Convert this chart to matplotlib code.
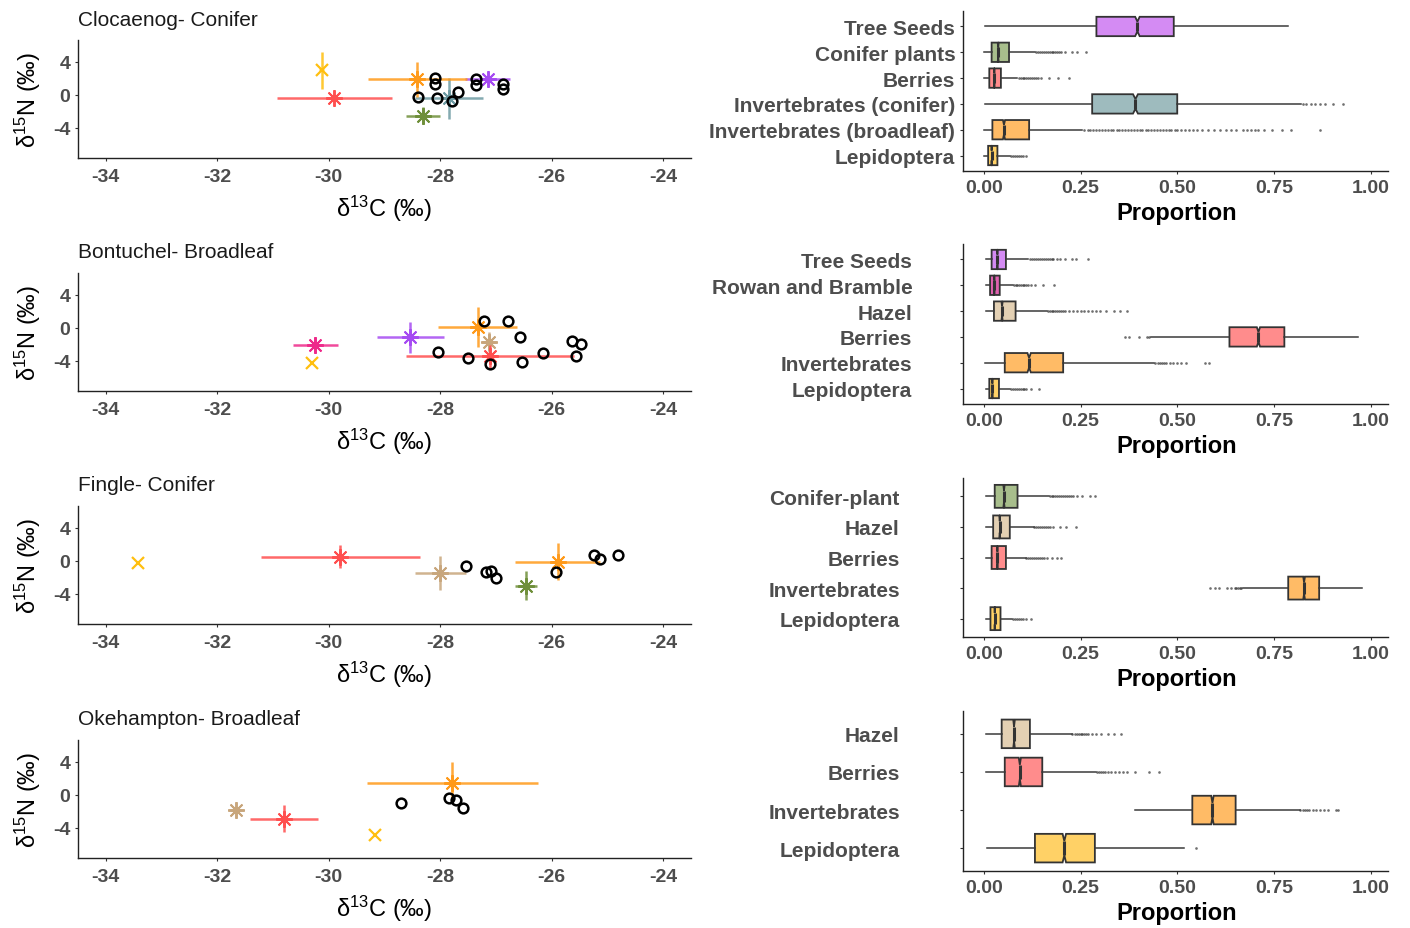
import numpy as np
import matplotlib.pyplot as plt

plt.rcParams['font.family'] = ['Liberation Sans', 'DejaVu Sans']
plt.rcParams['mathtext.fontset'] = 'custom'
plt.rcParams['mathtext.rm'] = 'Liberation Sans'
plt.rcParams['mathtext.it'] = 'Liberation Sans:italic'
plt.rcParams['axes.unicode_minus'] = False

# ---------------- isotope biplots (left column) ----------------
cloc_src = ["Tree Seeds", "Conifer plants", "Berries", "Invertebrates (conifer)",
            "Invertebrates (broadleaf)", "Lepidoptera"]
cloc_c13 = [-27.15, -28.31, -29.90, -27.85, -28.41, -30.13]
cloc_n15 = [1.96, -2.52, -0.36, -0.40, 1.88, 2.96]
cloc_c13_sd = [0.41, 0.30, 1.03, 0.61, 0.89, 0.05]
cloc_n15_sd = [0.15, 1.00, 0.15, 2.50, 2.14, 2.25]
cloc_mice_c13 = [-28.39, -28.09, -28.10, -28.06, -27.79, -27.69, -27.35, -27.35, -26.87, -26.87]
cloc_mice_n15 = [-0.24, 2.08, 1.28, -0.36, -0.72, 0.40, 1.88, 1.16, 1.28, 0.76]

bont_src = ["Tree Seeds", "Rowan and Bramble", "Hazel", "Berries", "Invertebrates", "Lepidoptera"]
bont_c13 = [-28.54, -30.24, -27.13, -27.11, -27.33, -30.30]
bont_n15 = [-1.14, -2.07, -1.67, -3.46, 0.08, -4.31]
bont_c13_sd = [0.60, 0.40, 0.12, 1.51, 0.71, 0.0]
bont_n15_sd = [1.90, 0.95, 1.20, 1.40, 2.44, 0.0]
bont_mice_c13 = [-27.22, -26.79, -26.56, -25.64, -25.48, -28.04, -27.50, -27.11, -26.54, -26.16, -25.57]
bont_mice_n15 = [0.89, 0.89, -1.06, -1.63, -1.95, -2.89, -3.66, -4.39, -4.19, -3.05, -3.37]

fing_src = ["Conifer-plant", "Hazel", "Berries", "Invertebrates", "Lepidoptera"]
fing_c13 = [-26.46, -28.00, -29.79, -25.89, -33.43]
fing_n15 = [-3.00, -1.42, 0.53, -0.08, -0.20]
fing_c13_sd = [0.20, 0.46, 1.42, 0.76, 0.0]
fing_n15_sd = [1.73, 2.07, 1.34, 2.24, 0.0]
fing_mice_c13 = [-27.54, -27.17, -27.09, -27.00, -25.93, -25.24, -25.13, -24.81]
fing_mice_n15 = [-0.61, -1.30, -1.22, -2.11, -1.30, 0.73, 0.20, 0.73]

okeh_src = ["Hazel", "Berries", "Invertebrates", "Lepidoptera"]
okeh_c13 = [-31.67, -30.81, -27.78, -29.17]
okeh_n15 = [-1.80, -2.88, 1.48, -4.92]
okeh_c13_sd = [0.10, 0.61, 1.54, 0.0]
okeh_n15_sd = [0.10, 1.60, 2.45, 0.0]
okeh_mice_c13 = [-28.70, -27.85, -27.72, -27.59]
okeh_mice_n15 = [-1.00, -0.40, -0.60, -1.60]

site_titles = ["Clocaenog- Conifer", "Bontuchel- Broadleaf", "Fingle- Conifer", "Okehampton- Broadleaf"]

point_colors = {
    "Tree Seeds": "#A64BF2", "Conifer plants": "#6F8F3A", "Conifer-plant": "#6F8F3A",
    "Berries": "#FF4F4F", "Invertebrates (conifer)": "#6E9BA3",
    "Invertebrates (broadleaf)": "#FF9A1A", "Invertebrates": "#FF9A1A",
    "Lepidoptera": "#FFBF0F", "Rowan and Bramble": "#EE2A8A", "Hazel": "#C8A67C",
}
box_colors = {
    "Tree Seeds": "#D48BF3", "Conifer plants": "#A8BE8C", "Conifer-plant": "#A8BE8C",
    "Berries": "#FF8C8C", "Invertebrates (conifer)": "#9EBBBE",
    "Invertebrates (broadleaf)": "#FFBB66", "Invertebrates": "#FFBB66",
    "Lepidoptera": "#FFD166", "Rowan and Bramble": "#E062B0", "Hazel": "#E3D0B3",
}

# ---------------- diet proportions (right column) ----------------
n_draws = 3000

p1_lab = ["Tree Seeds", "Conifer plants", "Berries", "Invertebrates (conifer)",
          "Invertebrates (broadleaf)", "Lepidoptera"]
p1_lo = [0.003, 0.0, 0.0, 0.003, 0.0, 0.0]
p1_q1 = [0.291, 0.020, 0.014, 0.280, 0.022, 0.011]
p1_med = [0.397, 0.037, 0.027, 0.392, 0.052, 0.020]
p1_q3 = [0.491, 0.065, 0.044, 0.500, 0.117, 0.035]
p1_hi = [0.787, 0.132, 0.086, 0.819, 0.255, 0.067]
p1_out = [
    [],
    [0.135, 0.14, 0.145, 0.15, 0.155, 0.16, 0.165, 0.17, 0.175, 0.18, 0.185, 0.19, 0.195, 0.2, 0.21, 0.229, 0.24, 0.264],
    [0.09, 0.095, 0.1, 0.105, 0.11, 0.115, 0.12, 0.125, 0.13, 0.135, 0.14, 0.148, 0.169, 0.191, 0.221],
    [0.825, 0.834, 0.847, 0.855, 0.869, 0.882, 0.902, 0.928],
    [0.26, 0.268, 0.275, 0.283, 0.29, 0.298, 0.305, 0.313, 0.32, 0.328, 0.335, 0.343, 0.35, 0.358, 0.365,
     0.373, 0.38, 0.388, 0.395, 0.403, 0.41, 0.418, 0.425, 0.433, 0.44, 0.448, 0.455, 0.463, 0.47, 0.478,
     0.485, 0.493, 0.5, 0.51, 0.52, 0.53, 0.54, 0.55, 0.565, 0.58, 0.595, 0.61, 0.625, 0.64, 0.653,
     0.67, 0.68, 0.69, 0.70, 0.71, 0.725, 0.745, 0.77, 0.794, 0.869],
    [0.07, 0.075, 0.08, 0.085, 0.09, 0.095, 0.1, 0.11],
]

p2_lab = ["Tree Seeds", "Rowan and Bramble", "Hazel", "Berries", "Invertebrates", "Lepidoptera"]
p2_lo = [0.005, 0.005, 0.005, 0.431, 0.003, 0.005]
p2_q1 = [0.020, 0.016, 0.026, 0.635, 0.054, 0.014]
p2_med = [0.035, 0.027, 0.047, 0.710, 0.117, 0.022]
p2_q3 = [0.057, 0.041, 0.082, 0.777, 0.205, 0.039]
p2_hi = [0.115, 0.076, 0.164, 0.968, 0.440, 0.067]
p2_out = [
    [0.118, 0.125, 0.13, 0.135, 0.14, 0.145, 0.15, 0.155, 0.16, 0.165, 0.17, 0.175, 0.18, 0.19, 0.197, 0.21, 0.227, 0.238, 0.268],
    [0.078, 0.082, 0.086, 0.09, 0.095, 0.1, 0.105, 0.11, 0.115, 0.122, 0.132, 0.153, 0.181],
    [0.165, 0.17, 0.175, 0.18, 0.185, 0.19, 0.195, 0.2, 0.205, 0.21, 0.22, 0.23, 0.24, 0.25, 0.26, 0.27,
     0.28, 0.29, 0.30, 0.317, 0.336, 0.352, 0.369],
    [0.364, 0.376, 0.401, 0.421, 0.427],
    [0.443, 0.45, 0.455, 0.46, 0.465, 0.47, 0.48, 0.49, 0.5, 0.51, 0.522, 0.572, 0.583],
    [0.07, 0.075, 0.08, 0.085, 0.09, 0.095, 0.1, 0.105, 0.11, 0.122, 0.142],
]

p3_lab = ["Conifer-plant", "Hazel", "Berries", "Invertebrates", "Lepidoptera"]
p3_lo = [0.005, 0.005, 0.005, 0.669, 0.005]
p3_q1 = [0.028, 0.024, 0.020, 0.787, 0.017]
p3_med = [0.052, 0.041, 0.035, 0.828, 0.028]
p3_q3 = [0.087, 0.067, 0.057, 0.867, 0.043]
p3_hi = [0.169, 0.129, 0.108, 0.977, 0.073]
p3_out = [
    [0.17, 0.175, 0.18, 0.185, 0.19, 0.195, 0.2, 0.205, 0.21, 0.215, 0.22, 0.225, 0.231, 0.24, 0.253, 0.274, 0.287],
    [0.13, 0.135, 0.14, 0.145, 0.15, 0.155, 0.16, 0.165, 0.17, 0.179, 0.197, 0.212, 0.238],
    [0.11, 0.115, 0.12, 0.125, 0.13, 0.135, 0.14, 0.145, 0.15, 0.155, 0.162, 0.175, 0.188, 0.2],
    [0.586, 0.597, 0.609, 0.628, 0.638, 0.649, 0.653, 0.657, 0.661, 0.665],
    [0.075, 0.08, 0.085, 0.09, 0.095, 0.1, 0.11, 0.122],
]

p4_lab = ["Hazel", "Berries", "Invertebrates", "Lepidoptera"]
p4_lo = [0.005, 0.005, 0.390, 0.009]
p4_q1 = [0.046, 0.054, 0.539, 0.132]
p4_med = [0.078, 0.093, 0.591, 0.208]
p4_q3 = [0.119, 0.151, 0.651, 0.287]
p4_hi = [0.227, 0.291, 0.817, 0.517]
p4_out = [
    [0.228, 0.235, 0.24, 0.245, 0.25, 0.255, 0.26, 0.265, 0.27, 0.28, 0.29, 0.304, 0.322, 0.336, 0.354],
    [0.292, 0.297, 0.302, 0.307, 0.312, 0.32, 0.33, 0.34, 0.35, 0.36, 0.369, 0.39, 0.427, 0.453],
    [0.818, 0.824, 0.83, 0.836, 0.842, 0.85, 0.86, 0.87, 0.88, 0.89, 0.91, 0.916],
    [0.548],
]

W, H = 1410, 929
fig = plt.figure(figsize=(W / 100, H / 100), dpi=100)


def px_axes(x0, y0, x1, y1):
    return fig.add_axes([x0 / W, 1 - y1 / H, (x1 - x0) / W, (y1 - y0) / H])


def style(ax):
    for s in ['top', 'right']:
        ax.spines[s].set_visible(False)
    for s in ['left', 'bottom']:
        ax.spines[s].set_linewidth(1.0)
        ax.spines[s].set_color('#222222')
    ax.tick_params(length=2.5, width=0.8, color='#333333', pad=3)


def biplot(ax, src, c13, n15, c13_sd, n15_sd, mice_c13, mice_n15):
    for i, s in enumerate(src):
        col = point_colors[s]
        ax.errorbar(c13[i], n15[i], xerr=c13_sd[i], yerr=n15_sd[i], fmt='none',
                    ecolor=col, elinewidth=1.8, alpha=0.85, capsize=0)
        if s == "Lepidoptera":
            ax.plot(c13[i], n15[i], linestyle='none', marker='x', markersize=9,
                    markeredgewidth=1.6, color=col)
        else:
            ax.plot(c13[i], n15[i], linestyle='none', marker=(8, 2, 0), markersize=12,
                    markeredgewidth=1.4, color=col)
    ax.plot(mice_c13, mice_n15, 'o', mfc='none', mec='black', ms=7, mew=1.8)
    ax.set_xlim(-34.5, -23.5)
    ax.set_ylim(-7.65, 6.65)
    ax.set_xticks([-34, -32, -30, -28, -26, -24], ["-34", "-32", "-30", "-28", "-26", "-24"],
                  fontsize=14, fontweight='bold', color='#4D4D4D')
    ax.set_yticks([-4, 0, 4], ["-4", "0", "4"], fontsize=14, fontweight='bold', color='#4D4D4D')
    style(ax)
    ax.tick_params(axis='x', pad=5)


def boxes(ax, labels, lo, q1, med, q3, hi, out, ypad):
    stats = []
    for i in range(len(labels)):
        notch = 1.58 * (q3[i] - q1[i]) / np.sqrt(n_draws)
        stats.append(dict(whislo=lo[i], q1=q1[i], med=med[i], q3=q3[i], whishi=hi[i],
                          fliers=out[i], cilo=med[i] - notch, cihi=med[i] + notch))
    pos = np.arange(1, len(labels) + 1)
    bp = ax.bxp(stats, positions=pos, widths=0.75, orientation='horizontal',
                patch_artist=True, shownotches=True, showcaps=False,
                boxprops=dict(edgecolor='#333333', linewidth=1.3),
                whiskerprops=dict(color='#3A3A3A', linewidth=1.1),
                medianprops=dict(color='#333333', linewidth=2.2),
                flierprops=dict(marker='o', markersize=1.9, markerfacecolor='#333333',
                                markeredgecolor='none', alpha=0.7))
    for patch, lab in zip(bp['boxes'], labels):
        patch.set_facecolor(box_colors[lab])
    ax.set_ylim(len(labels) + 0.6, 0.4)
    ax.set_xlim(-0.054, 1.045)
    ax.set_yticks(pos, labels, fontsize=15, fontweight='bold', color='#4D4D4D')
    ax.set_xticks([0, 0.25, 0.5, 0.75, 1.0], ["0.00", "0.25", "0.50", "0.75", "1.00"],
                  fontsize=14, fontweight='bold', color='#4D4D4D')
    style(ax)
    ax.tick_params(axis='y', pad=ypad)


left_data = [
    (cloc_src, cloc_c13, cloc_n15, cloc_c13_sd, cloc_n15_sd, cloc_mice_c13, cloc_mice_n15),
    (bont_src, bont_c13, bont_n15, bont_c13_sd, bont_n15_sd, bont_mice_c13, bont_mice_n15),
    (fing_src, fing_c13, fing_n15, fing_c13_sd, fing_n15_sd, fing_mice_c13, fing_mice_n15),
    (okeh_src, okeh_c13, okeh_n15, okeh_c13_sd, okeh_n15_sd, okeh_mice_c13, okeh_mice_n15),
]
right_data = [
    (p1_lab, p1_lo, p1_q1, p1_med, p1_q3, p1_hi, p1_out),
    (p2_lab, p2_lo, p2_q1, p2_med, p2_q3, p2_hi, p2_out),
    (p3_lab, p3_lo, p3_q1, p3_med, p3_q3, p3_hi, p3_out),
    (p4_lab, p4_lo, p4_q1, p4_med, p4_q3, p4_hi, p4_out),
]

left_tops = [41, 274, 507, 741]
right_tops = [12, 245, 479, 712]
right_bots = [172, 405, 638, 872]
# the lower three panels keep their category labels further from the axis
right_ypads = [3, 34, 43, 43]

for k in range(4):
    t = left_tops[k]
    ax = px_axes(78, t, 691, t + 118)
    biplot(ax, *left_data[k])
    fig.text(78 / W, 1 - (t - 21) / H, site_titles[k], fontsize=15, color='#1A1A1A',
             ha='left', va='center')
    fig.text(384 / W, 1 - (t + 168) / H, r'δ$^{13}$C (‰)', fontsize=17,
             ha='center', va='center')
    fig.text(28 / W, 1 - (t + 59) / H, r'δ$^{15}$N (‰)', fontsize=17, rotation=90,
             ha='center', va='center')

    axr = px_axes(963, right_tops[k], 1388, right_bots[k])
    boxes(axr, *right_data[k], right_ypads[k])
    fig.text(1177 / W, 1 - (right_bots[k] + 42) / H, 'Proportion', fontsize=17,
             fontweight='bold', ha='center', va='center')

fig.savefig('out.png', dpi=100)
